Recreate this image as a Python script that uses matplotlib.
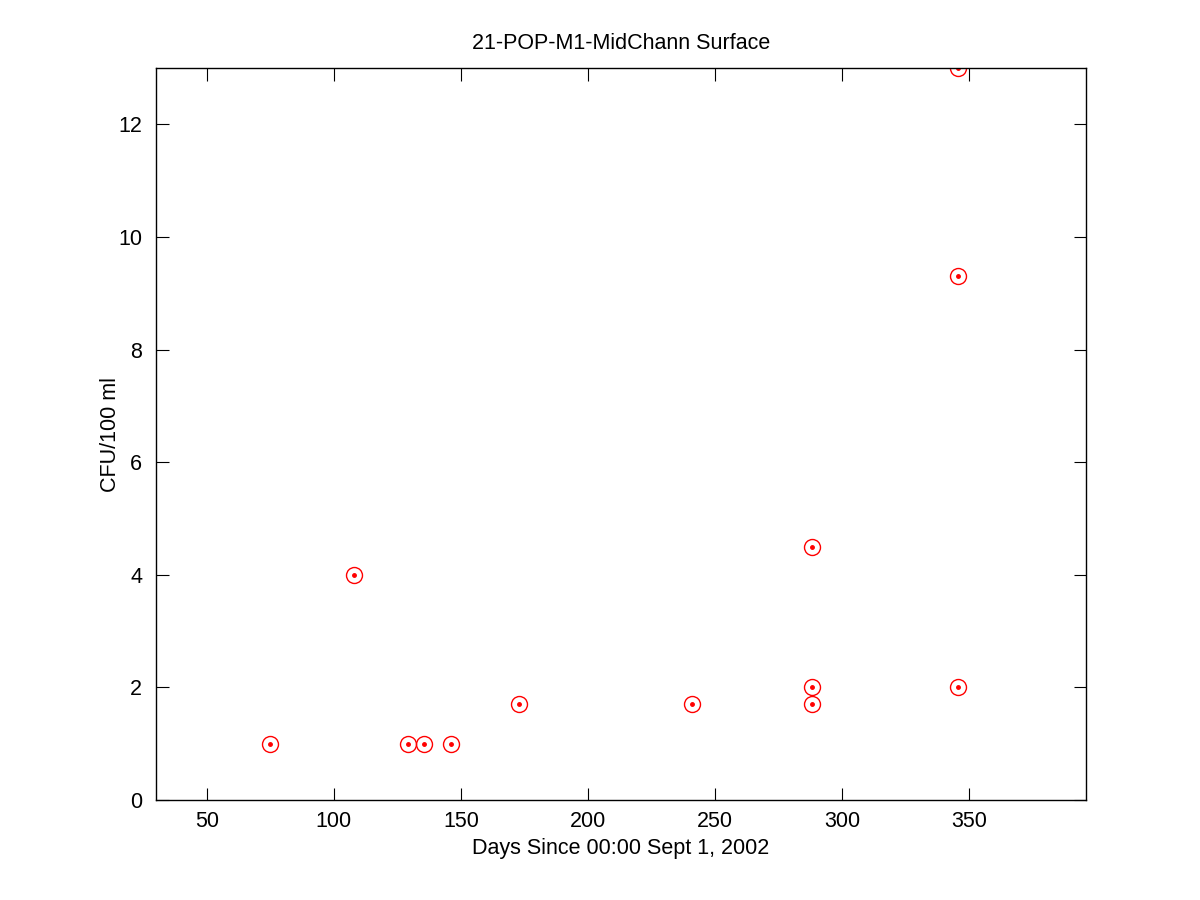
import matplotlib
matplotlib.use("Agg")
import matplotlib.pyplot as plt

# sample days and counts
days = [75, 108, 129, 135.5, 146, 173, 241, 288, 288, 288, 345.5, 345.5, 345.5]
cfu = [1, 4, 1, 1, 1, 1.7, 1.7, 4.5, 2, 1.7, 13, 9.3, 2]

plt.rcParams['font.family'] = ['Liberation Sans', 'DejaVu Sans']

fig = plt.figure(figsize=(12, 9), dpi=100)
ax = fig.add_axes([0.13, 0.111, 0.775, 0.8133])

ax.plot(days, cfu, linestyle="none", marker="o", markersize=11.5,
        markerfacecolor="none", markeredgecolor="red", markeredgewidth=1)
ax.plot(days, cfu, linestyle="none", marker=".", markersize=5, color="red")

ax.set_xlim(30, 396)
ax.set_ylim(0, 13)
ax.set_xticks([50, 100, 150, 200, 250, 300, 350])
ax.set_yticks([0, 2, 4, 6, 8, 10, 12])
ax.tick_params(direction="in", top=True, right=True, length=9, labelsize=15.5)
ax.tick_params(axis="x", pad=8)
ax.tick_params(axis="y", pad=10)
for s in ax.spines.values():
    s.set_linewidth(1)

ax.set_title("21-POP-M1-MidChann Surface", fontsize=15.5, pad=14)
ax.set_xlabel("Days Since 00:00 Sept 1, 2002", fontsize=15.5, labelpad=4)
ax.set_ylabel("CFU/100 ml", fontsize=15.5, labelpad=-2)

fig.savefig("out.png", dpi=100)
